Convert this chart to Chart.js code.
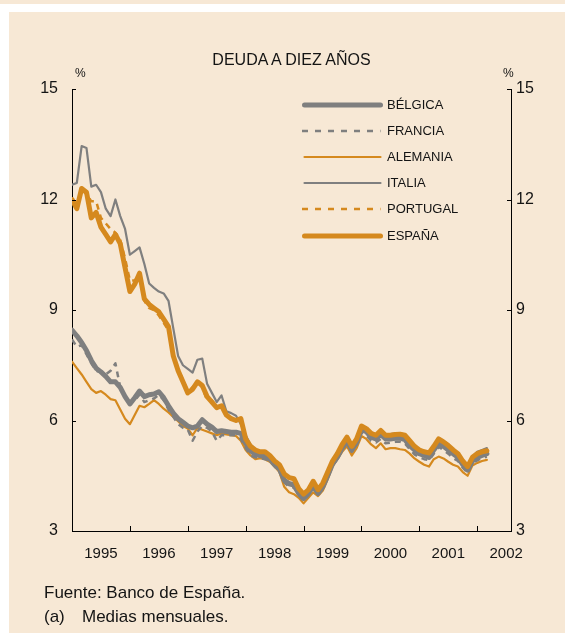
<!DOCTYPE html>
<html lang="es">
<head>
<meta charset="utf-8">
<title>Deuda a diez años</title>
<script src="https://cdn.jsdelivr.net/npm/chart.js@4.4.1/dist/chart.umd.min.js"></script>
<style>
    html, body {
        margin: 0;
        padding: 0;
        background: #fff;
    }
    body {
        position: relative;
        width: 565px;
        height: 633px;
        overflow: hidden;
        font-family: "Liberation Sans", Arial, Helvetica, sans-serif;
        color: #141414;
    }
    .franja {
        position: absolute;
        left: 0;
        top: 0;
        width: 565px;
        height: 4px;
        background: #f7e8d5;
    }
    .panel {
        position: absolute;
        left: 9px;
        top: 12px;
        right: 0;
        bottom: 0;
        background: #f7e8d5;
    }
    #grafico {
        position: absolute;
        left: 0;
        top: 0;
    }
    .titulo {
        position: absolute;
        left: 72px;
        width: 439px;
        top: 51px;
        line-height: 18px;
        text-align: center;
        font-size: 16px;
    }
    .pct {
        position: absolute;
        top: 66px;
        font-size: 12px;
        line-height: 14px;
    }
    .leyenda-fila {
        position: absolute;
        left: 302px;
        height: 14px;
        font-size: 13px;
        line-height: 14px;
        white-space: nowrap;
    }
    .leyenda-fila canvas {
        position: absolute;
        left: 0;
        top: 0;
    }
    .leyenda-fila span {
        position: absolute;
        left: 85px;
        top: 0;
    }
    .nota {
        position: absolute;
        left: 44px;
        font-size: 17px;
        line-height: 19px;
        white-space: nowrap;
    }
</style>
</head>
<body>
<div class="franja"></div>
<div class="panel"></div>
<canvas id="grafico" width="565" height="633"></canvas>
<div class="titulo">DEUDA A DIEZ AÑOS</div>
<div class="pct" style="left:75px;">%</div>
<div class="pct" style="left:503px;">%</div>
<div id="leyenda"></div>
<div class="nota" style="top:583px;">Fuente: Banco de España.</div>
<div class="nota" style="top:607px;">(a)<span style="position:absolute;left:38px;">Medias mensuales.</span></div>

<script>
// Medias mensuales, de enero de 1995 a marzo de 2002
var ANIOS = ["1995", "1996", "1997", "1998", "1999", "2000", "2001", "2002"];

var BELGICA = [
    8.45, 8.3, 8.12, 7.9, 7.63, 7.42, 7.32, 7.2, 7.05, 7.05, 6.9, 6.65,
    6.45, 6.62, 6.8, 6.65, 6.7, 6.72, 6.78, 6.62, 6.4, 6.2, 6.05, 5.95,
    5.85, 5.8, 5.85, 6.02, 5.9, 5.82, 5.7, 5.72, 5.7, 5.68, 5.68, 5.65,
    5.38, 5.18, 5.08, 5.05, 5.02, 4.95, 4.8, 4.68, 4.38, 4.28, 4.25, 4.02,
    3.88, 4.02, 4.22, 4.02, 4.2, 4.5, 4.82, 5.0, 5.25, 5.45, 5.2, 5.4,
    5.75, 5.7, 5.55, 5.5, 5.62, 5.5, 5.5, 5.52, 5.52, 5.48, 5.32, 5.2,
    5.1, 5.05, 5.0, 5.2, 5.38, 5.3, 5.2, 5.1, 5.0, 4.8, 4.65, 4.9,
    5.0, 5.05, 5.1
];

var FRANCIA = [
    8.2, 8.0, 8.05, 7.8, 7.55, 7.35, 7.3, 7.25, 7.35, 7.55, 6.9, 6.65,
    6.45, 6.55, 6.7, 6.5, 6.55, 6.6, 6.7, 6.55, 6.3, 6.1, 5.9, 5.8,
    5.75, 5.45, 5.7, 5.85, 5.8, 5.7, 5.45, 5.6, 5.6, 5.6, 5.6, 5.5,
    5.25, 5.05, 5.0, 4.98, 4.95, 4.9, 4.75, 4.62, 4.32, 4.2, 4.18, 3.98,
    3.82, 3.98, 4.18, 3.98, 4.15, 4.45, 4.78, 4.95, 5.2, 5.4, 5.15, 5.35,
    5.68, 5.6, 5.45, 5.4, 5.5, 5.38, 5.4, 5.42, 5.42, 5.38, 5.22, 5.08,
    5.0, 4.95, 4.92, 5.1, 5.28, 5.2, 5.1, 4.98, 4.9, 4.72, 4.58, 4.85,
    4.92, 4.98, 5.02
];

var ALEMANIA = [
    7.6, 7.42, 7.25, 7.05, 6.85, 6.75, 6.8, 6.7, 6.58, 6.55, 6.3, 6.05,
    5.9, 6.15, 6.4, 6.36, 6.45, 6.55, 6.45, 6.32, 6.22, 6.1, 5.98, 5.85,
    5.78, 5.6, 5.8, 5.75, 5.7, 5.65, 5.6, 5.65, 5.62, 5.6, 5.58, 5.45,
    5.2, 5.05, 4.95, 4.98, 4.95, 4.88, 4.75, 4.6, 4.2, 4.05, 4.0, 3.9,
    3.75, 3.9, 4.05, 3.95, 4.1, 4.4, 4.75, 4.95, 5.15, 5.3, 5.05, 5.25,
    5.58, 5.5, 5.35, 5.25, 5.38, 5.22, 5.25, 5.25, 5.22, 5.2, 5.1, 4.97,
    4.88, 4.8, 4.75, 4.95, 5.02, 4.97, 4.88, 4.8, 4.75, 4.6, 4.5, 4.78,
    4.85, 4.9, 4.93
];

var ITALIA = [
    12.4, 12.45, 13.45, 13.4, 12.35, 12.4, 12.2, 11.75, 11.55, 12.0, 11.55, 11.2,
    10.5, 10.6, 10.7, 10.25, 9.72, 9.6, 9.5, 9.45, 9.25, 8.5, 7.75, 7.5,
    7.4, 7.3, 7.65, 7.68, 7.0, 6.75, 6.5, 6.68, 6.25, 6.2, 6.13, 5.9,
    5.6, 5.35, 5.22, 5.15, 5.12, 5.0, 4.85, 4.72, 4.42, 4.32, 4.3, 4.08,
    3.95, 4.08, 4.3, 4.08, 4.25, 4.55, 4.88, 5.08, 5.35, 5.55, 5.28, 5.5,
    5.85, 5.8, 5.68, 5.62, 5.75, 5.62, 5.63, 5.65, 5.65, 5.62, 5.45, 5.32,
    5.22, 5.18, 5.15, 5.32, 5.52, 5.45, 5.35, 5.22, 5.12, 4.92, 4.78, 5.02,
    5.15, 5.2, 5.25
];

var PORTUGAL = [
    11.95, 11.85, 12.25, 12.15, 11.95, 11.95, 11.5, 11.35, 11.2, 11.1, 10.9, 10.4,
    9.8, 9.8, 9.95, 9.25, 9.05, 9.0, 8.85, 8.65, 8.45, 7.8, 7.4, 7.1,
    6.8, 6.9, 7.05, 6.9, 6.55, 6.55, 6.35, 6.38, 6.15, 6.05, 6.0, 6.0,
    5.5, 5.3, 5.18, 5.15, 5.12, 5.05, 4.92, 4.8, 4.55, 4.45, 4.42, 4.15,
    4.0, 4.12, 4.35, 4.12, 4.3, 4.6, 4.9, 5.1, 5.35, 5.55, 5.3, 5.5,
    5.85, 5.8, 5.65, 5.6, 5.73, 5.6, 5.6, 5.62, 5.63, 5.6, 5.45, 5.3,
    5.2, 5.15, 5.1, 5.3, 5.48, 5.42, 5.32, 5.18, 5.08, 4.88, 4.73, 4.98,
    5.08, 5.12, 5.15
];

var ESPANA = [
    12.0, 11.75, 12.3, 12.2, 11.5, 11.65, 11.25, 11.05, 10.85, 11.05, 10.8, 10.15,
    9.5, 9.7, 10.0, 9.3, 9.15, 9.05, 8.95, 8.75, 8.55, 7.75, 7.35, 7.05,
    6.75, 6.85, 7.05, 6.95, 6.65, 6.5, 6.35, 6.4, 6.15, 6.05, 6.0, 6.05,
    5.5, 5.3, 5.2, 5.15, 5.15, 5.05, 4.9, 4.8, 4.55, 4.45, 4.42, 4.15,
    4.0, 4.12, 4.35, 4.12, 4.3, 4.6, 4.9, 5.1, 5.35, 5.55, 5.3, 5.5,
    5.85, 5.78, 5.65, 5.6, 5.73, 5.6, 5.6, 5.62, 5.63, 5.6, 5.45, 5.3,
    5.2, 5.15, 5.12, 5.3, 5.5, 5.42, 5.32, 5.2, 5.1, 4.9, 4.75, 5.0,
    5.1, 5.15, 5.18
];

var GRIS = "#7f7f7f",
    NARANJA = "#d5891e",
    TEXTO = "#141414";

// marcas del eje horizontal: inicio de cada año
var MARCAS_X = [12, 24, 36, 48, 60, 72, 84];

var SERIES = [
    { nombre: "BÉLGICA", datos: BELGICA, color: GRIS, ancho: 5, guion: [], orden: 1 },
    { nombre: "FRANCIA", datos: FRANCIA, color: GRIS, ancho: 2.5, guion: [6, 5], orden: 3 },
    { nombre: "ALEMANIA", datos: ALEMANIA, color: NARANJA, ancho: 2.2, guion: [], orden: 5 },
    { nombre: "ITALIA", datos: ITALIA, color: GRIS, ancho: 2.2, guion: [], orden: 4 },
    { nombre: "PORTUGAL", datos: PORTUGAL, color: NARANJA, ancho: 2.5, guion: [6, 5], orden: 2 },
    { nombre: "ESPAÑA", datos: ESPANA, color: NARANJA, ancho: 5, guion: [], orden: 0 }
];

function puntos(valores) {
    return valores.map(function(v, i) {
        return { x: i, y: v };
    });
}

// pequeñas marcas hacia dentro en los tres ejes
var marcasEjes = {
    id: "marcasEjes",
    afterDraw: function(chart) {
        var ctx = chart.ctx,
            area = chart.chartArea,
            x = chart.scales.x,
            y = chart.scales.y;

        ctx.save();
        ctx.strokeStyle = "#000";
        ctx.lineWidth = 1;
        ctx.beginPath();
        MARCAS_X.forEach(function(v) {
            var px = Math.round(x.getPixelForValue(v)) + 0.5;
            ctx.moveTo(px, area.bottom);
            ctx.lineTo(px, area.bottom - 5);
        });
        y.ticks.forEach(function(t) {
            if (t.value === y.min) {
                return;
            }
            var py = Math.round(y.getPixelForValue(t.value)) + 0.5;
            ctx.moveTo(area.left, py);
            ctx.lineTo(area.left + 4, py);
            ctx.moveTo(area.right, py);
            ctx.lineTo(area.right - 4, py);
        });
        ctx.stroke();
        ctx.restore();
    }
};

function ejeVertical(posicion, ancho, separacion) {
    return {
        position: posicion,
        min: 3,
        max: 15,
        grid: { display: false, drawTicks: false },
        border: { display: true, color: "#000", width: 1 },
        ticks: {
            stepSize: 3,
            padding: separacion,
            color: TEXTO,
            font: { size: 16 }
        },
        afterFit: function(scale) {
            scale.width = ancho;
        }
    };
}

Chart.defaults.font.family = '"Liberation Sans", Arial, Helvetica, sans-serif';

var chart = new Chart(document.getElementById("grafico").getContext("2d"), {
    type: "line",
    data: {
        datasets: SERIES.map(function(s) {
            return {
                label: s.nombre,
                data: puntos(s.datos),
                borderColor: s.color,
                borderWidth: s.ancho,
                borderDash: s.guion,
                borderJoinStyle: "round",
                borderCapStyle: s.guion.length ? "butt" : "round",
                pointRadius: 0,
                tension: 0,
                fill: false,
                order: s.orden
            };
        })
    },
    options: {
        responsive: false,
        animation: false,
        events: [],
        layout: {
            padding: { top: 89, left: 0, right: 0, bottom: 0 }
        },
        plugins: {
            legend: { display: false },
            tooltip: { enabled: false },
            title: { display: false }
        },
        scales: {
            x: {
                type: "linear",
                min: 0,
                max: 91,
                grid: { display: false, drawTicks: false },
                border: { display: true, color: "#000", width: 1 },
                afterBuildTicks: function(scale) {
                    scale.ticks = ANIOS.map(function(a, i) {
                        return { value: 6 + 12 * i };
                    });
                },
                ticks: {
                    autoSkip: false,
                    maxRotation: 0,
                    padding: 14,
                    color: TEXTO,
                    font: { size: 15 },
                    callback: function(value, index) {
                        return ANIOS[index];
                    }
                },
                afterFit: function(scale) {
                    scale.height = 102;
                }
            },
            y: ejeVertical("left", 72, 14),
            y2: ejeVertical("right", 54, 5)
        }
    },
    plugins: [marcasEjes]
});

// leyenda
var $leyenda = document.getElementById("leyenda");
SERIES.forEach(function(s, i) {
    var fila = document.createElement("div"),
        lienzo = document.createElement("canvas"),
        texto = document.createElement("span"),
        ctx;

    fila.className = "leyenda-fila";
    fila.style.top = (98 + i * 26.1) + "px";

    lienzo.width = 82;
    lienzo.height = 14;
    ctx = lienzo.getContext("2d");
    ctx.strokeStyle = s.color;
    ctx.lineWidth = s.ancho;
    ctx.lineCap = s.guion.length ? "butt" : "round";
    ctx.setLineDash(s.guion.length ? [6, 7] : []);
    ctx.beginPath();
    ctx.moveTo(s.guion.length ? 0 : 2.5, 7);
    ctx.lineTo(78.5, 7);
    ctx.stroke();

    texto.textContent = s.nombre;

    fila.appendChild(lienzo);
    fila.appendChild(texto);
    $leyenda.appendChild(fila);
});
</script>
</body>
</html>
